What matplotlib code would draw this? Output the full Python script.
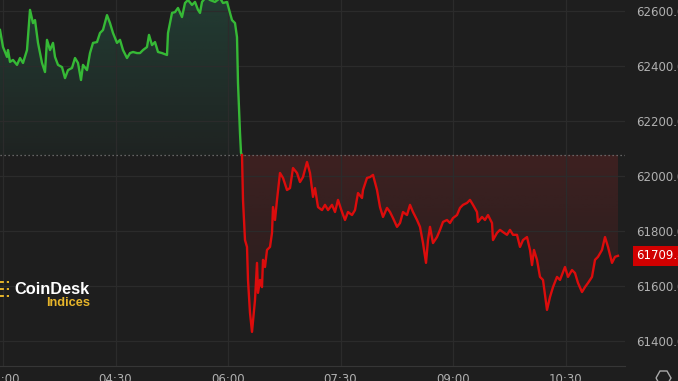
import numpy as np
import matplotlib
matplotlib.use("Agg")
import matplotlib.pyplot as plt
from matplotlib.patches import PathPatch, Polygon
from matplotlib.colors import to_rgb

# minutes since midnight, index price
minutes = [
    177.6, 180.0, 183.2, 184.0, 185.6, 188.0, 191.2, 193.6, 196.0, 199.2,
    201.6, 204.0, 205.6, 208.0, 211.2, 213.6, 215.2, 217.6, 220.0, 221.6,
    224.0, 227.2, 229.6, 232.0, 235.2, 237.6, 240.0, 242.4, 244.0, 247.2,
    249.6, 252.0, 255.2, 257.6, 260.0, 263.2, 265.6, 268.0, 271.2, 273.6,
    276.0, 279.2, 281.6, 284.0, 287.2, 289.6, 292.0, 295.2, 296.8, 299.2,
    301.6, 304.0, 307.2, 311.2, 312.0, 315.2, 317.6, 320.0, 323.2, 325.6,
    328.0, 331.2, 333.6, 336.0, 337.6, 339.2, 342.4, 345.6, 349.6, 353.6,
    356.0, 359.2, 361.6, 363.2, 365.6, 367.2, 368.0, 369.6, 370.4, 371.2,
    372.0, 373.6, 375.2, 376.0, 377.6, 379.2, 381.6, 383.2, 384.0, 385.6,
    387.2, 388.0, 389.6, 391.2, 393.6, 395.2, 396.0, 397.6, 399.2, 401.6,
    404.0, 407.2, 409.6, 412.0, 415.2, 417.6, 420.0, 423.2, 425.6, 428.0,
    429.6, 432.0, 435.2, 437.6, 440.0, 443.2, 445.6, 448.0, 451.2, 453.6,
    456.0, 459.2, 461.6, 464.0, 467.2, 468.0, 471.2, 473.6, 476.0, 479.2,
    481.6, 484.0, 487.2, 489.6, 492.0, 495.2, 497.6, 500.0, 503.2, 505.6,
    508.0, 511.2, 513.6, 516.0, 518.4, 520.0, 521.6, 524.0, 527.2, 529.6,
    532.0, 535.2, 537.6, 540.0, 543.2, 545.6, 548.0, 551.2, 553.6, 556.0,
    559.2, 560.0, 563.2, 565.6, 568.0, 571.2, 572.0, 575.2, 577.6, 580.0,
    583.2, 585.6, 588.0, 591.2, 593.6, 596.0, 599.2, 601.6, 603.2, 604.8,
    607.2, 609.6, 612.0, 615.2, 617.6, 620.0, 623.2, 625.6, 629.6, 632.0,
    635.2, 637.6, 640.0, 643.2, 645.6, 648.0, 651.2, 653.6, 656.0, 659.2,
    661.6, 664.0, 667.2, 669.6, 672.0,
]
price = [
    62531, 62469, 62433, 62458, 62415, 62422, 62404, 62429, 62411, 62458,
    62604, 62556, 62567, 62484, 62411, 62378, 62495, 62458, 62484, 62433,
    62404, 62396, 62356, 62385, 62393, 62429, 62411, 62349, 62404, 62385,
    62447, 62484, 62487, 62520, 62531, 62585, 62556, 62520, 62484, 62495,
    62458, 62429, 62447, 62451, 62447, 62447, 62458, 62469, 62513, 62476,
    62487, 62451, 62447, 62440, 62520, 62593, 62596, 62611, 62578, 62629,
    62640, 62622, 62633, 62604, 62593, 62633, 62651, 62640, 62633, 62647,
    62629, 62633, 62593, 62567, 62556, 62505, 62338, 62156, 62084, 62076,
    61913, 61767, 61742, 61622, 61502, 61433, 61549, 61684, 61575, 61622,
    61596, 61695, 61669, 61731, 61742, 61793, 61887, 61840, 61913, 62011,
    61993, 61949, 61956, 62029, 62011, 61978, 61996, 62051, 62011, 61924,
    61956, 61887, 61876, 61895, 61876, 61895, 61869, 61913, 61869, 61840,
    61869, 61858, 61876, 61938, 61920, 61949, 61993, 61996, 62004, 61949,
    61887, 61851, 61884, 61869, 61847, 61815, 61829, 61869, 61858, 61895,
    61869, 61840, 61815, 61756, 61684, 61767, 61815, 61756, 61778, 61804,
    61833, 61840, 61829, 61847, 61858, 61884, 61895, 61902, 61913, 61895,
    61869, 61833, 61851, 61840, 61858, 61829, 61767, 61793, 61804, 61796,
    61786, 61804, 61786, 61786, 61742, 61767, 61778, 61731, 61676, 61731,
    61695, 61633, 61622, 61513, 61560, 61596, 61633, 61622, 61669, 61633,
    61658, 61647, 61611, 61578, 61596, 61611, 61633, 61695, 61706, 61731,
    61778, 61742, 61684, 61706, 61709.8,
]
baseline = 62076
y_ticks = [61400, 61600, 61800, 62000, 62200, 62400, 62600]
x_ticks = [180, 270, 360, 450, 540, 630]
x_labels = ["03:00", "04:30", "06:00", "07:30", "09:00", "10:30"]

BG = "#1e1e1e"
GREEN = "#36b936"
RED = "#dc0c0c"

t = np.array(minutes)
p = np.array(price, dtype=float)
split = int(np.argmax(p <= baseline))  # first point on/below the baseline

fig = plt.figure(figsize=(6.78, 3.81), dpi=100, facecolor=BG)
W, H = 678, 381
ax = fig.add_axes([0, 15 / H, 625 / W, 366 / H])
ax.set_facecolor(BG)


def gradient_fill(x, y, color, a_top, a_bot, y_top, y_bot):
    poly = ax.fill_between(x, y, baseline, color="none", lw=0)
    patch = PathPatch(poly.get_paths()[0], transform=ax.transData,
                      facecolor="none", edgecolor="none")
    ax.add_patch(patch)
    rgba = np.zeros((256, 1, 4))
    rgba[..., :3] = to_rgb(color)
    rgba[:, 0, 3] = np.linspace(a_top, a_bot, 256)
    im = ax.imshow(rgba, extent=[x.min(), x.max(), y_bot, y_top],
                   aspect="auto", origin="upper", zorder=1)
    im.set_clip_path(patch)


gradient_fill(t[:split + 1], p[:split + 1], "#2f8a6a", 0.28, 0.05, 62650, baseline)
gradient_fill(t[split:], p[split:], "#b02a2a", 0.22, 0.04, baseline, 61400)

ax.plot(t[:split + 1], p[:split + 1], color=GREEN, lw=1.7, zorder=3)
ax.plot(t[split:], p[split:], color=RED, lw=1.7, zorder=3)
ax.axhline(baseline, color="#7a7a7a", lw=0.9, ls=(0, (1, 2.2)), zorder=2)

ax.set_xlim(177.6, 677.6)
ax.set_ylim(61309, 62640)

ax.set_xticks(x_ticks)
ax.set_xticklabels(x_labels)
ax.set_yticks(y_ticks)
ax.set_yticklabels([f"{v:.1f}" for v in y_ticks])
ax.yaxis.tick_right()
ax.tick_params(axis="both", length=0, colors="#b0b0b0", labelsize=8.5)
ax.tick_params(axis="y", pad=8)
ax.tick_params(axis="x", pad=5)
ax.grid(True, color="#2b2b2b", lw=0.9, zorder=0)
for side in ["top", "left", "right"]:
    ax.spines[side].set_visible(False)
ax.spines["bottom"].set_color("#363636")

# last price tag
ax.annotate(f"{price[-1]:.1f}", xy=(1, price[-1]),
            xycoords=("axes fraction", "data"), xytext=(8, 0),
            textcoords="offset points", va="center", ha="left",
            color="white", fontsize=8.5,
            bbox=dict(boxstyle="square,pad=0.3", fc="#d10000", ec="none"),
            annotation_clip=False)

# CoinDesk Indices logo
fig.text(14 / W, 1 - 289 / H, "CoinDesk", color="white", fontsize=11.8,
         fontweight="bold", family="Liberation Sans", va="center", ha="left")
fig.text(90 / W, 1 - 303 / H, "Indices", color="#e7b52a", fontsize=9.2,
         fontweight="bold", family="Liberation Sans", va="center", ha="right")
for yy in [282, 289, 296]:
    fig.add_artist(plt.Line2D([0, 9 / W], [1 - yy / H] * 2, color="#e7b52a",
                              lw=1.4, ls=(0, (2, 1.5))))

# small badge bottom right
hexagon = Polygon([[656 / W, 1 - 378 / H], [660 / W, 1 - 371 / H], [667 / W, 1 - 371 / H],
                   [671 / W, 1 - 378 / H], [667 / W, 1 - 385 / H], [660 / W, 1 - 385 / H]],
                  closed=True, fill=False, ec="#a9a9a9", lw=1, transform=fig.transFigure)
fig.add_artist(hexagon)

fig.savefig("out.png", dpi=100, facecolor=BG)
